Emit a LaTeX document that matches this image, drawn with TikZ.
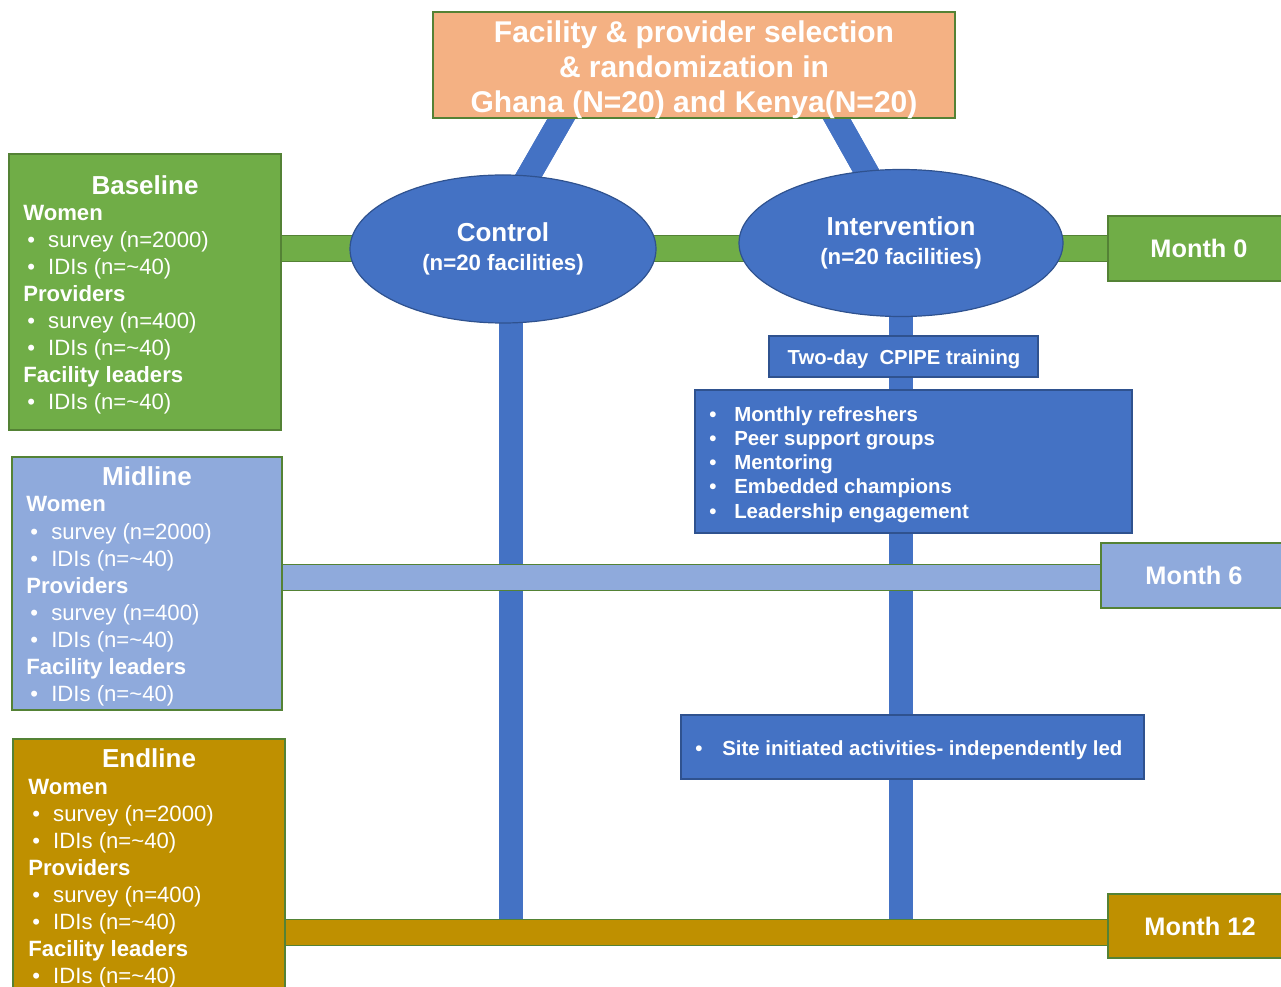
\documentclass[tikz,border=0pt]{standalone}
\usepackage{fontspec}
\setmainfont{Liberation Sans}
\usetikzlibrary{shapes.geometric,calc,backgrounds}
\newlength\px \setlength\px{0.75pt}
\definecolor{cblue}{HTML}{4472C4}
\definecolor{cblueE}{HTML}{2F528F}
\definecolor{cgreen}{HTML}{70AD47}
\definecolor{cgreenD}{HTML}{548235}
\definecolor{clight}{HTML}{8FAADC}
\definecolor{cgold}{HTML}{BF9000}
\definecolor{corange}{HTML}{F4B183}
\tikzset{
  gbox/.style={draw=cgreenD, line width=1.2\px, inner sep=0pt, text=white, font=\bfseries},
  bbox/.style={draw=cblueE, fill=cblue, line width=1.2\px, inner sep=0pt, text=white, font=\bfseries},
  ell/.style={ellipse, draw=cblueE, fill=cblue, line width=1.2\px, inner sep=0pt, text=white, align=center},
  hband/.style={line width=1\px, draw=cgreenD, double=#1, double distance=25\px},
  vband/.style={line width=0\px, draw=cblue, double=cblue, double distance=24\px},
  title/.style={text=white, font=\fontsize{19.5}{22}\selectfont\bfseries, inner sep=0pt},
  lst/.style={text=white, align=left, anchor=north west, inner sep=0pt,
    font=\fontsize{16.6}{20.3}\selectfont},
  month/.style={font=\fontsize{19}{22}\selectfont\bfseries},
}
\newcommand{\bul}[1]{\hspace*{4\px}\makebox[21\px][l]{\textbullet}#1}
\newcommand{\bulb}[1]{\makebox[25\px][l]{\textbullet}#1}
\newcommand{\hd}[1]{\textbf{#1}}
\newcommand{\ellt}[2]{{\fontsize{19.5}{22}\selectfont\bfseries #1}\\[11\px]{\fontsize{16.7}{18}\selectfont\bfseries #2}}
\begin{document}
\begin{tikzpicture}[x=0.75pt,y=-0.75pt]
\useasboundingbox (0,0) rectangle (1281,987);
% top box
\node[gbox, fill=corange, minimum width=522\px, minimum height=106\px] (top) at (694,65) {};
\node[text=white, align=center, inner sep=0pt,
  font=\fontsize{22.5}{26.3}\selectfont\bfseries] (toptext) at (694,70)
  {Facility \& provider selection\\\& randomization in\\Ghana (N=20) and Kenya(N=20)};
% ellipses
\node[ell, minimum width=306\px, minimum height=148\px] (ctrl) at (503,249)
  {\ellt{Control}{(n=20 facilities)}};
\node[ell, minimum width=324\px, minimum height=147\px] (int) at (901,243)
  {\ellt{Intervention}{(n=20 facilities)}};
% left boxes
\node[gbox, fill=cgreen, minimum width=272\px, minimum height=276\px] (base) at (145,292) {};
\node[gbox, fill=clight, minimum width=270\px, minimum height=253\px] (mid) at (147,583.5) {};
\node[gbox, fill=cgold, minimum width=272\px, minimum height=261\px] (endl) at (149,869.5) {};
% month boxes
\node[gbox, month, fill=cgreen, minimum width=182\px, minimum height=65\px] (m0) at (1199,248.5) {Month 0};
\node[gbox, month, fill=clight, minimum width=186\px, minimum height=65\px] (m6) at (1194,575.5) {Month 6};
\node[gbox, month, fill=cgold, minimum width=184\px, minimum height=64\px] (m12) at (1200,926) {Month 12};
% intervention boxes
\node[bbox, minimum width=269\px, minimum height=41\px] (two) at (903.5,356.5) {};
\node[text=white, inner sep=0pt, font=\fontsize{15.2}{18}\selectfont\bfseries] (twotext) at (904,359) {Two-day~~CPIPE training};
\node[bbox, minimum width=437\px, minimum height=143\px] (mon) at (913.5,461.5) {};
\node[bbox, minimum width=463\px, minimum height=64\px] (site) at (912.5,747) {};
% texts of the left boxes
\node[title] (tb) at (145,185) {Baseline};
\node[lst] (lb) at (23,205) {\hd{Women}\\\bul{survey (n=2000)}\\\bul{IDIs (n=\textasciitilde40)}\\\hd{Providers}\\\bul{survey (n=400)}\\\bul{IDIs (n=\textasciitilde40)}\\\hd{Facility leaders}\\\bul{IDIs (n=\textasciitilde40)}};
\node[title] (tm) at (147,476) {Midline};
\node[lst] (lm) at (26,496.5) {\hd{Women}\\\bul{survey (n=2000)}\\\bul{IDIs (n=\textasciitilde40)}\\\hd{Providers}\\\bul{survey (n=400)}\\\bul{IDIs (n=\textasciitilde40)}\\\hd{Facility leaders}\\\bul{IDIs (n=\textasciitilde40)}};
\node[title] (te) at (149,758) {Endline};
\node[lst] (le) at (28,778.5) {\hd{Women}\\\bul{survey (n=2000)}\\\bul{IDIs (n=\textasciitilde40)}\\\hd{Providers}\\\bul{survey (n=400)}\\\bul{IDIs (n=\textasciitilde40)}\\\hd{Facility leaders}\\\bul{IDIs (n=\textasciitilde40)}};
% texts of the intervention boxes
\node[lst, font=\fontsize{15.3}{18.2}\selectfont\bfseries] (lmon) at (709,406) {\bulb{Monthly refreshers}\\\bulb{Peer support groups}\\\bulb{Mentoring}\\\bulb{Embedded champions}\\\bulb{Leadership engagement}};
\node[text=white, anchor=west, inner sep=0pt, font=\fontsize{15.3}{18}\selectfont\bfseries] (lsite) at (695,750) {\makebox[27\px][l]{\textbullet}Site initiated activities- independently led};
% connectors (behind)
\coordinate (cv) at (510.5,934);
\coordinate (iv) at (901,934);
\begin{scope}[on background layer]
  \draw[vband] ($(top.south)+(-128,-8)$) -- ($(ctrl.north)+(16,18)$);
  \draw[vband] ($(top.south)+(138,-8)$) -- ($(int.north)+(-26,18)$);
  \draw[vband] (cv |- ctrl.center) -- (cv);
  \draw[vband] (iv |- int.center) -- (iv);
  \draw[hband=cgreen] (base.east |- m0.west) -- (m0.west);
  \draw[hband=clight] ($(mid.east |- m6.west)+(0,2)$) -- ($(m6.west)+(0,2)$);
  \draw[hband=cgold] ($(endl.east |- m12.west)+(0,6.5)$) -- ($(m12.west)+(0,6.5)$);
\end{scope}
\end{tikzpicture}
\end{document}
